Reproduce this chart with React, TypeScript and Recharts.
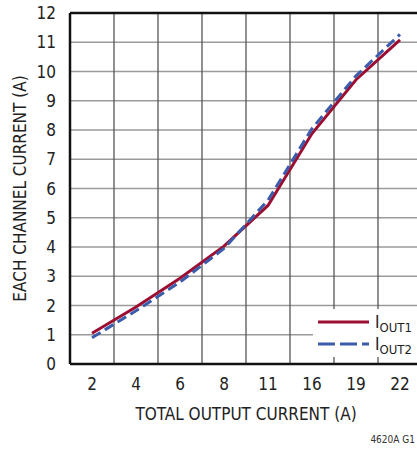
import React from 'react';
import { LineChart, Line, XAxis, YAxis, CartesianGrid, ReferenceLine } from 'recharts';

const categories = ['2', '4', '6', '8', '11', '16', '19', '22'];
const iout1 = [1.05, 1.95, 2.93, 4.03, 5.42, 7.88, 9.72, 11.08];
const iout2 = [0.9, 1.82, 2.8, 3.95, 5.6, 8.05, 9.85, 11.27];
const yTicks = [0, 1, 2, 3, 4, 5, 6, 7, 8, 9, 10, 11, 12];

const data = categories.map((c, i) => ({ idx: i, label: c, iout1: iout1[i], iout2: iout2[i] }));
const xTicks = categories.map((_, i) => i);
const cellEdges = categories.slice(1).map((_, i) => i + 0.5);

const FONT = '"DejaVu Sans Condensed", "Liberation Sans Narrow", "Liberation Sans", sans-serif';
const RED = '#9c0f33';
const BLUE = '#3b5cab';
const TEXT = '#222';

const YLabel = (props: any) => {
  const vb = props.viewBox || { x: 0, y: 0, width: 0, height: 0 };
  const cx = 20;
  const cy = vb.y + vb.height / 2;
  return (
    <text x={cx} y={cy} transform={`rotate(-90 ${cx} ${cy})`} textAnchor="middle" dominantBaseline="central" fontSize={17} fill={TEXT} fontFamily={FONT}>
      EACH CHANNEL CURRENT (A)
    </text>
  );
};

const LegendRow = ({ color, dash, name }: { color: string; dash?: string; name: string }) => (
  <div style={{ display: 'flex', alignItems: 'center', height: 22 }}>
    <svg width={58} height={10} style={{ marginLeft: 4 }}>
      <line x1={1} y1={5} x2={52} y2={5} stroke={color} strokeWidth={3} strokeDasharray={dash} />
    </svg>
    <span style={{ fontSize: 17, color: TEXT, lineHeight: '17px' }}>I</span>
    <span style={{ fontSize: 13, color: TEXT, lineHeight: '13px', position: 'relative', top: 5 }}>{name}</span>
  </div>
);

export default function App() {
  return (
    <div style={{ position: 'absolute', left: 0, top: 0, width: 417, height: 449, background: '#fff', fontFamily: FONT, overflow: 'hidden' }}>
      <LineChart width={417} height={449} data={data} margin={{ top: 13, right: -5, left: 0, bottom: 55 }}>
        <CartesianGrid vertical={false} stroke="#9a9a9a" strokeWidth={1.5} />
        {cellEdges.map((x) => (
          <ReferenceLine key={x} x={x} stroke="#555" strokeWidth={1.3} />
        ))}
        <ReferenceLine y={12} stroke="#111" strokeWidth={2.5} />
        <XAxis
          type="number"
          dataKey="idx"
          domain={[-0.5, 7.5]}
          ticks={xTicks}
          tickFormatter={(v) => categories[v]}
          tickLine={false}
          axisLine={{ stroke: '#111', strokeWidth: 2.5 }}
          tick={{ fontSize: 17, fill: TEXT, fontFamily: FONT }}
          tickMargin={8}
          height={30}
          interval={0}
          label={{ value: 'TOTAL OUTPUT CURRENT (A)', position: 'insideBottom', offset: -26, fontSize: 17, fill: TEXT, fontFamily: FONT }}
        />
        <YAxis
          type="number"
          domain={[0, 12]}
          ticks={yTicks}
          interval={0}
          width={70}
          tickLine={false}
          axisLine={{ stroke: '#111', strokeWidth: 2.5 }}
          tick={{ fontSize: 17, fill: TEXT, fontFamily: FONT }}
          tickMargin={8}
          label={<YLabel />}
        />
        <Line type="linear" dataKey="iout1" stroke={RED} strokeWidth={3} dot={false} isAnimationActive={false} />
        <Line type="linear" dataKey="iout2" stroke={BLUE} strokeWidth={3} strokeDasharray="10 5" dot={false} isAnimationActive={false} />
      </LineChart>
      <div style={{ position: 'absolute', left: 313, top: 309, width: 110, height: 46, background: '#fff', paddingTop: 2 }}>
        <LegendRow color={RED} name="OUT1" />
        <LegendRow color={BLUE} dash="17 5" name="OUT2" />
      </div>
      <div style={{ position: 'absolute', right: 2, top: 434, fontSize: 10, color: '#333' }}>4620A G1</div>
    </div>
  );
}
